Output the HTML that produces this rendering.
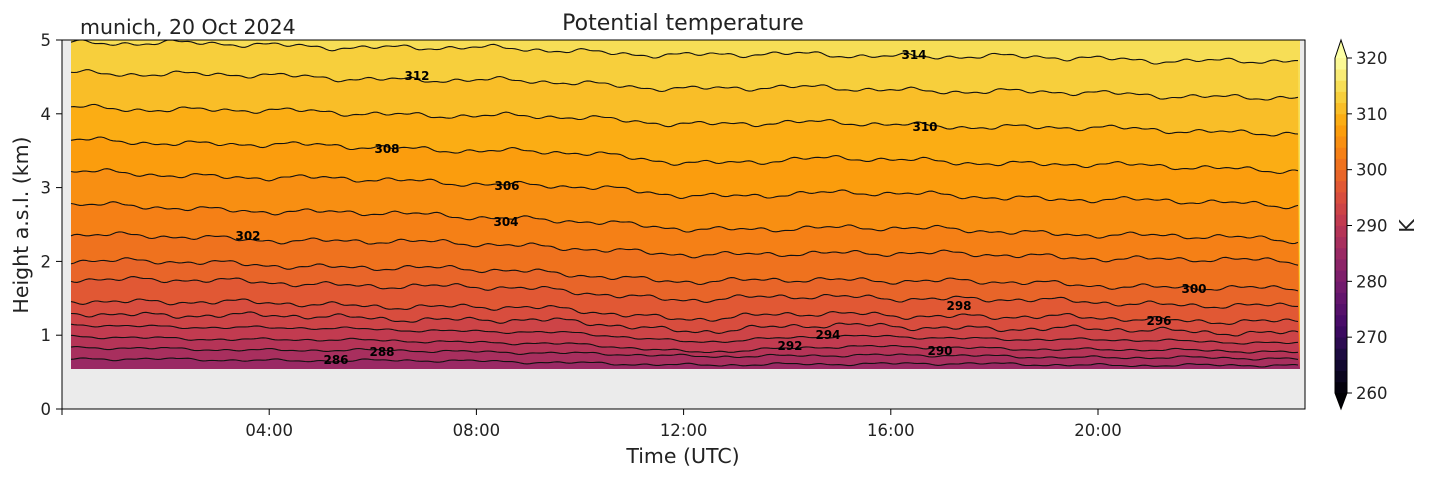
<!DOCTYPE html>
<html><head><meta charset="utf-8"><style>
html,body{margin:0;padding:0;background:#fff;}
svg text{font-family:"DejaVu Sans","Liberation Sans",sans-serif;fill:#222;}
</style></head><body>
<svg id="s" width="1429" height="478" xmlns="http://www.w3.org/2000/svg"></svg>
<script>
const S=document.getElementById('s');let h='';
const stops=[[0,'#000004'],[0.1,'#160b39'],[0.2,'#420a68'],[0.3,'#6a176e'],[0.4,'#932667'],[0.5,'#bc3754'],[0.6,'#dd513a'],[0.7,'#f37819'],[0.8,'#fca50a'],[0.9,'#f6d746'],[1,'#fcffa4']];
function hx(c){return [1,3,5].map(i=>parseInt(c.substr(i,2),16));}
function cmap(t){t=Math.max(0,Math.min(1,t));for(let i=0;i<stops.length-1;i++){if(t<=stops[i+1][0]){const f=(t-stops[i][0])/(stops[i+1][0]-stops[i][0]);const a=hx(stops[i][1]),b=hx(stops[i+1][1]);return 'rgb('+a.map((v,k)=>Math.round(v+(b[k]-v)*f)).join(',')+')';}}return stops[10][1];}
function col(T){return cmap((T-260)/60);}
h+='<rect x="62" y="40" width="1243" height="369" fill="#ebebeb"/>';
const X0=71,X1=1300,Ytop=40,Ybot=369;
const levels=[286,288,290,292,294,296,298,300,302,304,306,308,310,312,314];
const L={314:42,312:72,310:107,308:140,306:172,304:205,302:235,300:260,298:278,296:300,294:313,292:325,290:337,288:348,286:359};
const R={314:62,312:98,310:133,308:170,306:205,304:240,302:262,300:290,298:307,296:322,294:333,292:343,290:352,288:359,286:366};
function yl(T,x){const f=(x-X0)/(X1-X0);let y=L[T]+(R[T]-L[T])*f;
 const amp=(T>=290&&T<=308)?7:3;
 y+=amp*Math.exp(-Math.pow((x-690)/90,2));
 const s=(T<=292)?0.5:1;
 y+=s*(1.6*Math.sin(x*0.061+T*0.2)+1.2*Math.sin(x*0.137+T*0.5)+0.9*Math.sin(x*0.29+T*0.9)+1.0*Math.sin(x*0.023+T*0.4));
 return Math.max(Ytop,Math.min(Ybot,y));}
h+='<rect x="'+X0+'" y="'+Ytop+'" width="'+(X1-X0)+'" height="'+(Ybot-Ytop)+'" fill="'+col(315)+'"/>';
const paths={};
for(let i=levels.length-1;i>=0;i--){const T=levels[i];let p='';
 for(let x=X0;x<=X1;x+=3){p+=(x==X0?'M':'L')+x+','+yl(T,x).toFixed(1)+' ';}
 paths[T]=p;
 h+='<path d="'+p+'L'+X1+','+Ybot+' L'+X0+','+Ybot+' Z" fill="'+col(T-1)+'"/>';}
for(const T of levels)h+='<path d="'+paths[T]+'" fill="none" stroke="#111" stroke-width="1.1"/>';
const labs=[[286,336,364],[288,382,356],[290,940,355],[292,790,350],[294,828,339],[296,1159,325],[298,959,310],[300,1194,293],[302,248,240],[304,506,226],[306,507,190],[308,387,153],[310,925,131],[312,417,80],[314,914,59]];
for(const [t,x,y] of labs)h+='<text x="'+x+'" y="'+y+'" font-size="12" font-weight="bold" text-anchor="middle" style="fill:#000">'+t+'</text>';
h+='<rect x="62" y="40" width="1243" height="369" fill="none" stroke="#000" stroke-width="1"/>';
for(let k=0;k<=5;k++){const y=409-73.8*k;h+='<line x1="56" x2="62" y1="'+y+'" y2="'+y+'" stroke="#000"/><text x="51" y="'+(y+6)+'" font-size="16.5" text-anchor="end">'+k+'</text>';}
const xt=['04:00','08:00','12:00','16:00','20:00'];
for(let k=0;k<5;k++){const x=62+51.8*4*(k+1);h+='<line x1="'+x+'" x2="'+x+'" y1="409" y2="415" stroke="#000"/><text x="'+x+'" y="436" font-size="16.5" text-anchor="middle">'+xt[k]+'</text>';}
h+='<line x1="62" x2="62" y1="409" y2="415" stroke="#000"/>';
h+='<text x="683" y="463" font-size="20.5" text-anchor="middle">Time (UTC)</text>';
h+='<text transform="translate(28,225) rotate(-90)" font-size="20.5" text-anchor="middle">Height a.s.l. (km)</text>';
h+='<text x="683" y="30" font-size="22" text-anchor="middle">Potential temperature</text>';
h+='<text x="80" y="34" font-size="20.5">munich, 20 Oct 2024</text>';
const cx=1335,cw=12,cyT=58,cyB=393;const bh=(cyB-cyT)/30;
for(let i=0;i<30;i++){const T=261+2*i;const y=cyB-(i+1)*bh;h+='<rect x="'+cx+'" y="'+y.toFixed(2)+'" width="'+cw+'" height="'+(bh+0.4).toFixed(2)+'" fill="'+col(T)+'"/>';}
h+='<polygon points="'+cx+','+cyT+' '+(cx+cw)+','+cyT+' '+(cx+cw/2)+',40" fill="#fcffa4"/>';
h+='<polygon points="'+cx+','+cyB+' '+(cx+cw)+','+cyB+' '+(cx+cw/2)+',409" fill="#000004"/>';
h+='<polygon points="'+cx+','+cyT+' '+(cx+cw/2)+',40 '+(cx+cw)+','+cyT+' '+(cx+cw)+','+cyB+' '+(cx+cw/2)+',409 '+cx+','+cyB+'" fill="none" stroke="#000" stroke-width="1"/>';
for(let k=0;k<7;k++){const v=260+10*k;const y=cyB-(cyB-cyT)*k/6;h+='<line x1="'+(cx+cw)+'" x2="'+(cx+cw+5)+'" y1="'+y+'" y2="'+y+'" stroke="#000"/><text x="'+(cx+cw+9)+'" y="'+(y+6)+'" font-size="16.5">'+v+'</text>';}
h+='<text transform="translate(1414,226) rotate(-90)" font-size="20.5" text-anchor="middle">K</text>';
S.innerHTML=h;
</script>
</body></html>
